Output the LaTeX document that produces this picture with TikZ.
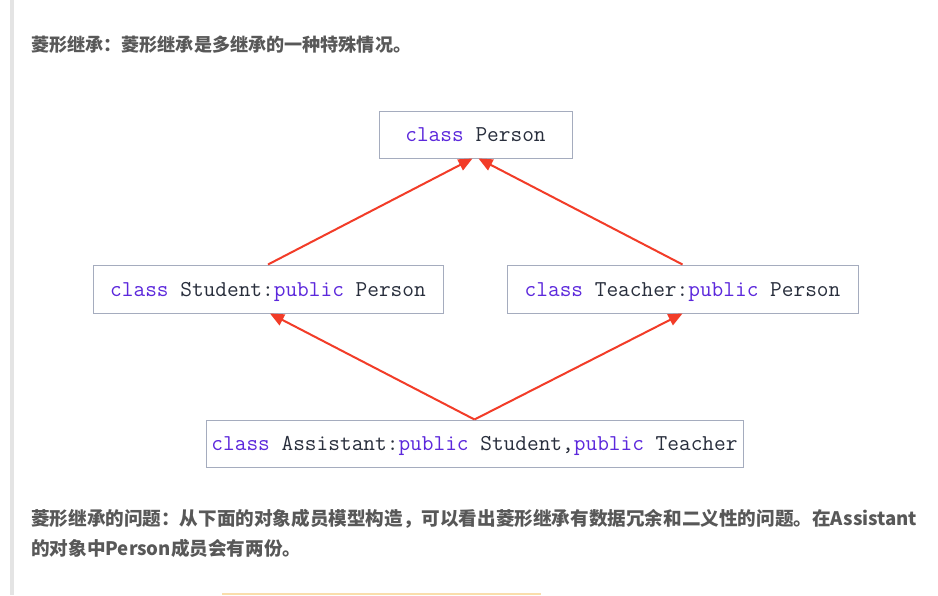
\documentclass[tikz,border=0pt]{standalone}
\usepackage{fontspec}
\usetikzlibrary{arrows.meta}
\newfontfamily\cjk{Noto Sans CJK SC}
\definecolor{kw}{RGB}{92,40,220}
\definecolor{ident}{RGB}{40,46,60}
\definecolor{boxline}{RGB}{165,172,190}
\definecolor{arr}{RGB}{242,60,40}
\definecolor{txt}{RGB}{88,88,88}
\definecolor{barc}{RGB}{228,228,228}
\definecolor{orng}{RGB}{250,222,172}
\newcommand{\kw}[1]{\textcolor{kw}{#1}}
\begin{document}
\begin{tikzpicture}[x=1pt,y=-1pt,
  cls/.style={draw=boxline,line width=1pt,fill=white,inner sep=0pt,
    text height=14pt,text depth=0pt,
    font=\ttfamily\fontsize{22.7}{24}\selectfont,text=ident},
  inh/.style={draw=arr,line width=2pt,-{Triangle[length=14pt,width=12pt]}},
  para/.style={anchor=base west,inner sep=0pt,text=txt}]
\useasboundingbox (0,0) rectangle (938,595);
\fill[white] (0,0) rectangle (938,595);
% left bar and bottom edge
\fill[barc] (9.5,0) rectangle (13.5,595);
\fill[orng] (222,592.5) rectangle (541,595);
% texts
\node[para,font=\cjk\bfseries\fontsize{18.1}{22}\selectfont] (title) at (31,51.5) {菱形继承：菱形继承是多继承的一种特殊情况。};
\node[para,font=\cjk\bfseries\fontsize{18.6}{22}\selectfont] (l1) at (31,525.5) {菱形继承的问题：从下面的对象成员模型构造，可以看出菱形继承有数据冗余和二义性的问题。在Assistant};
\node[para,font=\cjk\bfseries\fontsize{18.6}{22}\selectfont] (l2) at (31,555.5) {的对象中Person成员会有两份。};
% boxes
\node[cls,minimum width=193pt,minimum height=47pt] (p) at (475.5,134.5) {\kw{class} Person};
\node[cls,minimum width=350pt,minimum height=48pt] (s) at (268,289) {\kw{class} Student:\kw{public} Person};
\node[cls,minimum width=351pt,minimum height=48pt] (t) at (682.5,289) {\kw{class} Teacher:\kw{public} Person};
\node[cls,minimum width=537pt,minimum height=47pt] (a) at (474.5,443.5) {\kw{class} Assistant:\kw{public} Student,\kw{public} Teacher};
% arrows
\draw[inh] (s.north) -- ([xshift=-3pt]p.south);
\draw[inh] (t.north) -- ([xshift=3pt]p.south);
\draw[inh] (a.north) -- ([xshift=2pt]s.south);
\draw[inh] (a.north) -- (t.south);
\end{tikzpicture}
\end{document}
